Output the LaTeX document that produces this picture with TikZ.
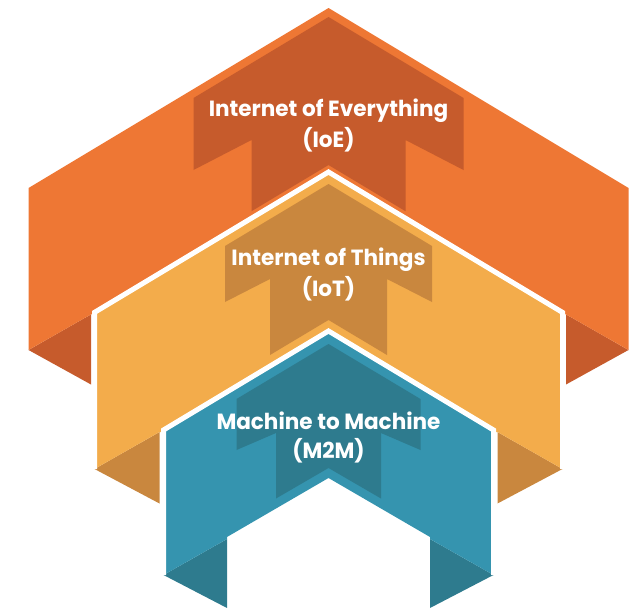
\documentclass[tikz,border=0pt]{standalone}
\usepackage{fontspec}
\setmainfont{Poppins}

% ribbon colours: front face and folded-back side
\definecolor{ioeface}{RGB}{238,119,52}
\definecolor{ioeback}{RGB}{198,91,44}
\definecolor{iotface}{RGB}{243,172,75}
\definecolor{iotback}{RGB}{201,135,62}
\definecolor{mtmface}{RGB}{53,148,175}
\definecolor{mtmback}{RGB}{46,123,142}

\tikzset{
  rim/.style={draw=white, line width=5pt, line join=miter, line cap=butt},
  ribbontext/.style={text=white, align=center, inner sep=0pt, xscale=0.98,
    font=\bfseries\fontsize{22}{31}\selectfont},
}

\begin{document}
\begin{tikzpicture}[x=1pt, y=-1pt]
\useasboundingbox (0,0) rectangle (630,608);

\begin{scope}[shift={(328.5,0)}]

  % ---------- outer ribbon: Internet of Everything ----------
  \fill[ioeback] (-300,350) -- (-237.5,314.4) -- (-237.5,384.5) -- cycle;
  \fill[ioeback] (300,350) -- (237.5,314.4) -- (237.5,384.5) -- cycle;
  \fill[ioeface] (-300,350) -- (-300,188) -- (0,8) -- (300,188) -- (300,350)
                 -- (237.5,314.4) -- (-237.5,314.4) -- cycle;
  \fill[ioeback] (0,17) -- (135,98) -- (135,170) -- (77,140) -- (77,211.2)
                 -- (0,165) -- (-77,211.2) -- (-77,140) -- (-135,170)
                 -- (-135,98) -- cycle;

  % ---------- middle ribbon: Internet of Things ----------
  \fill[iotback] (-234,469) -- (-169,432) -- (-169,503.5) -- cycle;
  \fill[iotback] (234,469) -- (169,432) -- (169,503.5) -- cycle;
  \fill[iotface] (-234,469) -- (-234,312.4) -- (0,172) -- (234,312.4) -- (234,469)
                 -- (169,432) -- (-169,432) -- cycle;
  \fill[iotback] (0,184) -- (103.5,246) -- (103.5,302) -- (58.5,279) -- (58.5,355)
                 -- (0,320) -- (-58.5,355) -- (-58.5,279) -- (-103.5,302)
                 -- (-103.5,246) -- cycle;
  \draw[rim] (-234,469) -- (-234,312.4) -- (0,172) -- (234,312.4) -- (234,469);

  % ---------- inner ribbon: Machine to Machine ----------
  \fill[mtmback] (-165,575) -- (-101.5,539) -- (-101.5,608) -- cycle;
  \fill[mtmback] (165,575) -- (101.5,539) -- (101.5,608) -- cycle;
  \fill[mtmface] (-165,575) -- (-165,430) -- (0,331) -- (165,430) -- (165,575)
                 -- (101.5,539) -- (101.5,537) -- (0,478) -- (-101.5,537)
                 -- (-101.5,539) -- cycle;
  \fill[mtmback] (0,344) -- (92,399) -- (92,450) -- (52.5,433) -- (52.5,498.5)
                 -- (0,468) -- (-52.5,498.5) -- (-52.5,433) -- (-92,450)
                 -- (-92,399) -- cycle;
  \draw[rim] (-165,575) -- (-165,430) -- (0,331) -- (165,430) -- (165,575);

  % ---------- labels ----------
  \node[ribbontext] (ioe) at (0,125) {Internet of Everything\\(IoE)};
  \node[ribbontext] (iot) at (0,274.5) {Internet of Things\\(IoT)};
  \node[ribbontext, font=\bfseries\fontsize{22}{29}\selectfont] (mtm) at (0,437)
       {Machine to Machine\\(M2M)};

\end{scope}
\end{tikzpicture}
\end{document}
